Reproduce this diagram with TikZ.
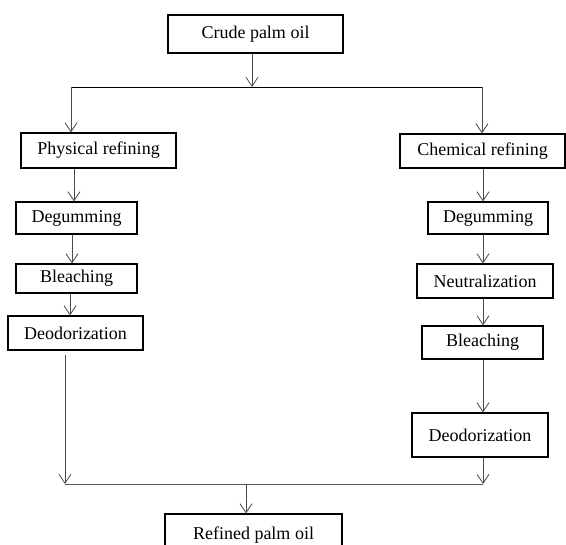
\documentclass[tikz,border=0pt]{standalone}
\usepackage{fontspec}
\setmainfont{Liberation Serif}
\usetikzlibrary{positioning}
\usetikzlibrary{arrows.meta}

\begin{document}
\begin{tikzpicture}[x=1pt,y=1pt,
  stage/.style={rectangle,draw,line width=1.2pt,inner sep=0pt,font=\fontsize{18}{22}\selectfont}]

  \useasboundingbox (0,0) rectangle (566,-545);

  % Ausgang
  \node[stage,minimum width=175pt,minimum height=38pt] (crude) at (255.5,-34) {Crude palm oil};

  % linker Zweig
  \node[stage,minimum width=155pt,minimum height=35pt] (phys)    [below left=116.5pt and 157pt of crude.center,anchor=center] {Physical refining};
  \node[stage,minimum width=121pt,minimum height=32pt] (degL)    [below left=67.5pt and 22pt of phys.center,anchor=center] {Degumming};
  \node[stage,minimum width=121pt,minimum height=29pt] (bleachL) [below=60.5pt of degL.center,anchor=center] {Bleaching};
  \node[stage,minimum width=135pt,minimum height=34pt] (deodL)   [below left=54.5pt and 1pt of bleachL.center,anchor=center] {Deodorization};

  % rechter Zweig
  \node[stage,minimum width=165pt,minimum height=34pt] (chem)    [below right=117pt and 227pt of crude.center,anchor=center] {Chemical refining};
  \node[stage,minimum width=120pt,minimum height=32pt] (degR)    [below right=67pt and 5.5pt of chem.center,anchor=center] {Degumming};
  \node[stage,minimum width=136pt,minimum height=34pt] (neut)    [below left=63pt and 3pt of degR.center,anchor=center] {Neutralization};
  \node[stage,minimum width=121pt,minimum height=33pt] (bleachR) [below left=61.5pt and 2.5pt of neut.center,anchor=center] {Bleaching};
  \node[stage,minimum width=136pt,minimum height=44pt] (deodR)   [below left=92.5pt and 2.5pt of bleachR.center,anchor=center] {Deodorization};

  % Ende
  \node[stage,minimum width=177pt,minimum height=42pt] (refined) [below left=501pt and 2pt of crude.center,anchor=center] {Refined palm oil};

  \coordinate (splitL) at (71,-87);
  \coordinate (splitM) at (252,-87);
  \coordinate (splitR) at (482,-87);
  \coordinate (joinL)  at (65,-484);
  \coordinate (joinM)  at (246,-484);
  \coordinate (joinR)  at (483,-484);

  \draw[line width=0.9pt] (splitL) -- (splitR);
  \draw[line width=0.9pt,black!65] (joinL) -- (joinR);

  \path[->,>={Straight Barb[length=9pt,width=12pt]},line width=0.8pt,black!70]
    (crude.south -| splitM) edge (splitM)
    (splitL) edge (splitL |- phys.north)
    (splitR) edge (splitR |- chem.north)

    ([xshift=-24.5pt]phys.south)   edge ([xshift=-2.5pt]degL.north)
    ([xshift=-4.5pt]degL.south)    edge ([xshift=-4.5pt]bleachL.north)
    ([xshift=-6.5pt]bleachL.south) edge ([xshift=-5.5pt]deodL.north)
    ([xshift=-10.5pt,yshift=-4pt]deodL.south) edge (joinL)

    (chem.south -| joinR)    edge (degR.north -| joinR)
    (degR.south -| joinR)    edge (neut.north -| joinR)
    (neut.south -| joinR)    edge (bleachR.north -| joinR)
    (bleachR.south -| joinR) edge (deodR.north -| joinR)
    (deodR.south -| joinR)   edge (joinR)

    (joinM) edge (joinM |- refined.north);

\end{tikzpicture}
\end{document}
